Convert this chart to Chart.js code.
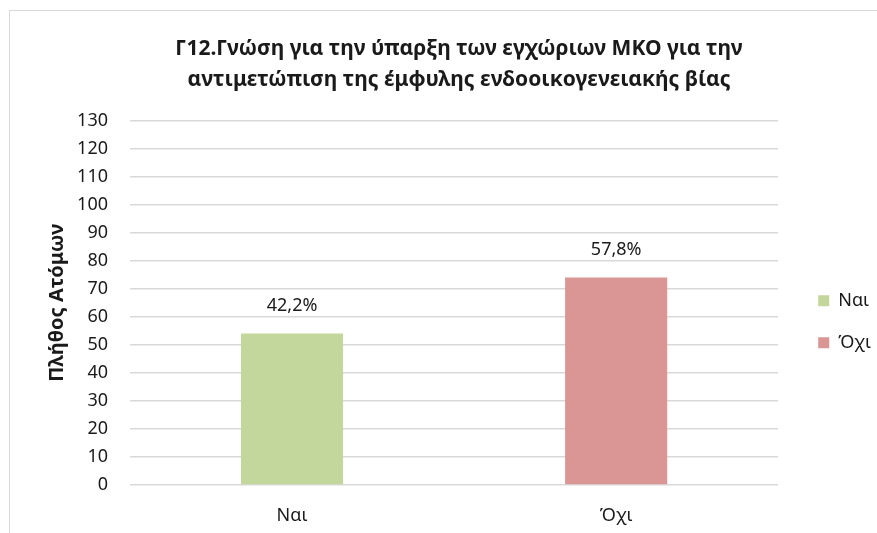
<!DOCTYPE html>
<html>
<head>
<meta charset="utf-8">
<script src="https://cdn.jsdelivr.net/npm/chart.js@4.4.1/dist/chart.umd.min.js"></script>
<style>
  body { margin: 0; overflow: hidden; background: #fff; }
  #wrap { position: relative; width: 877px; height: 533px; overflow: hidden; }
  #frame { position: absolute; left: 9px; top: 10px; width: 920px; height: 600px; border: 1px solid #d9d9d9; }
  #chart { position: absolute; left: 0; top: 0; }
</style>
</head>
<body>
<div id="wrap">
  <div id="frame"></div>
  <canvas id="chart" width="877" height="533"></canvas>
</div>
<script>
var titleLines = ["Γ12.Γνώση για την ύπαρξη των εγχώριων ΜΚΟ για την", "αντιμετώπιση της έμφυλης ενδοοικογενειακής βίας"];
var categories = ["Ναι", "Όχι"];
var counts = [54, 74];
var shares = ["42,2%", "57,8%"];
var barColors = ["#C3D69B", "#D99694"];
var yTicksMin = 0, yTicksMax = 130, yTicksStep = 10;

var FONT = "'Noto Sans', sans-serif";
var TEXT = "#1a1a1a";

// one dataset per category so the legend lists both
var datasets = categories.map(function(cat, i) {
  return {
    label: cat,
    data: counts.map(function(v, j) { return j === i ? v : null; }),
    backgroundColor: barColors[i],
    borderWidth: 0,
    yAxisID: "y",
    share: shares[i]
  };
});

var shareLabels = {
  id: "shareLabels",
  afterDatasetsDraw: function(chart) {
    var ctx = chart.ctx;
    ctx.save();
    ctx.font = "18px " + FONT;
    ctx.fillStyle = TEXT;
    ctx.textAlign = "center";
    ctx.textBaseline = "middle";
    chart.data.datasets.forEach(function(ds, i) {
      chart.getDatasetMeta(i).data.forEach(function(bar, j) {
        if (ds.data[j] == null) return;
        ctx.fillText(ds.share, bar.x, bar.y - 28);
      });
    });
    ctx.restore();
  }
};

new Chart(document.getElementById("chart"), {
  type: "bar",
  data: { labels: categories, datasets: datasets },
  plugins: [shareLabels],
  options: {
    responsive: false,
    devicePixelRatio: 1,
    animation: false,
    skipNull: true,
    barPercentage: 1,
    categoryPercentage: 0.315,
    layout: { padding: { left: 37, right: -4, top: 0, bottom: 0 } },
    plugins: {
      title: {
        display: true,
        text: titleLines,
        color: TEXT,
        font: { family: FONT, size: 21, weight: "bold", lineHeight: 1.476 },
        padding: { top: 33.5, bottom: 25 }
      },
      legend: {
        position: "right",
        fullSize: false,
        title: { display: true, text: " ", font: { size: 10 }, padding: 13 },
        labels: {
          boxWidth: 11,
          boxHeight: 11,
          padding: 24,
          color: TEXT,
          font: { family: FONT, size: 18 }
        }
      },
      tooltip: { enabled: false }
    },
    scales: {
      x: {
        afterFit: function(axis) { axis.height = 48; },
        grid: { display: false, drawTicks: false },
        border: { display: false },
        ticks: { color: TEXT, padding: 20, font: { family: FONT, size: 18 } }
      },
      y: {
        min: yTicksMin,
        max: yTicksMax,
        afterFit: function(axis) { axis.width = 93; },
        ticks: { stepSize: yTicksStep, color: TEXT, padding: 22, font: { family: FONT, size: 18 } },
        grid: { color: "#d9d9d9", lineWidth: 1.5, drawTicks: false },
        border: { display: false },
        title: {
          display: true,
          text: "Πλήθος Ατόμων",
          color: TEXT,
          font: { family: FONT, size: 20, weight: "bold" },
          padding: { top: 8 }
        }
      },
      gap: {
        position: "right",
        display: true,
        afterFit: function(axis) { axis.width = 16; },
        ticks: { display: false },
        grid: { display: false },
        border: { display: false }
      }
    }
  }
});
</script>
</body>
</html>
